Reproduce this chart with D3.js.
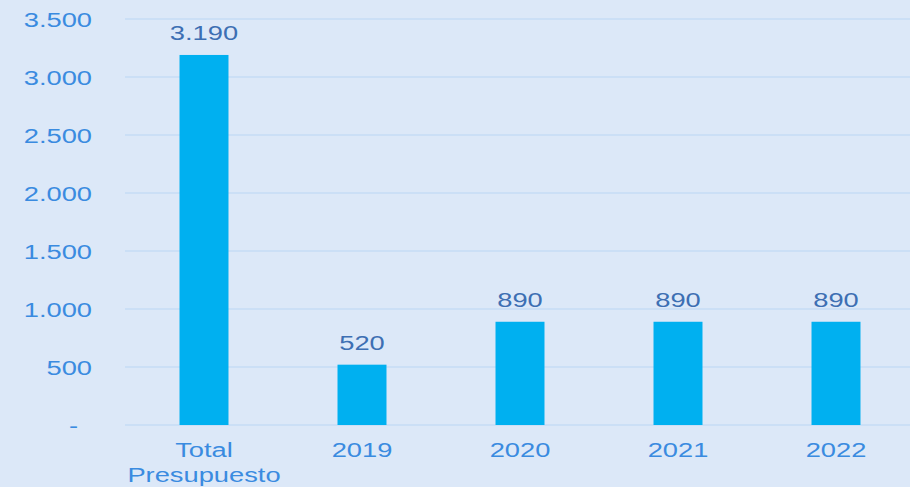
<!DOCTYPE html>
<html><head><meta charset="utf-8">
<script src="https://cdn.jsdelivr.net/npm/d3@7"></script>
<style>
html,body{margin:0;padding:0;background:#dce8f8;}
svg{display:block;}
text{font-family:"Liberation Sans",Arial,sans-serif;}
</style></head>
<body>
<svg id="c" width="910" height="487"></svg>
<script>
const categories = [["Total","Presupuesto"],["2019"],["2020"],["2021"],["2022"]];
const values = [3190, 520, 890, 890, 890];
const valueLabels = ["3.190","520","890","890","890"];
const yTicks = [0,500,1000,1500,2000,2500,3000,3500];
const yTickLabels = ["-","500","1.000","1.500","2.000","2.500","3.000","3.500"];

(function(){
const W = 910, H = 487;
const mLeft = 125, mRight = 915, mTop = 19, mBottom = 425;
const SX = 1.3;
const svg = d3.select("#c");
svg.append("rect").attr("width",W).attr("height",H).attr("fill","#dce8f8");

const x = d3.scaleBand().domain(d3.range(categories.length)).range([mLeft,mRight])
  .paddingInner(0.69).paddingOuter(0.345);
const y = d3.scaleLinear().domain([0,3500]).range([mBottom,mTop]);

// gridlines
svg.append("g").selectAll("line").data(yTicks).join("line")
  .attr("x1",mLeft).attr("x2",W).attr("y1",d=>y(d)).attr("y2",d=>y(d))
  .attr("stroke","#c6dcf6").attr("stroke-width",1.5);

// y axis labels
const ya = svg.append("g").attr("transform",`translate(${mLeft},0)`)
  .call(d3.axisLeft(y).tickValues(yTicks).tickSize(0).tickPadding(0)
    .tickFormat((d,i)=>yTickLabels[i]));
ya.select(".domain").remove();
ya.selectAll("text")
  .attr("x", d => (d===0 ? -47 : -33)/SX)
  .attr("dy","0.36em")
  .attr("transform",`scale(${SX},1)`)
  .attr("fill","#3a8be0").style("font-size","21px").style("font-family","'Liberation Sans',Arial,sans-serif");

// bars
svg.append("g").selectAll("rect").data(values).join("rect")
  .attr("x",(d,i)=>x(i)).attr("width",x.bandwidth())
  .attr("y",d=>y(d)).attr("height",d=>y(0)-y(d))
  .attr("fill","#00b0f0");

// value labels
svg.append("g").selectAll("text").data(values).join("text")
  .attr("transform",(d,i)=>`translate(${x(i)+x.bandwidth()/2},${y(d)-15}) scale(${SX},1)`)
  .attr("text-anchor","middle").attr("fill","#3d6fb3").style("font-size","21px")
  .text((d,i)=>valueLabels[i]);

// x labels
const xl = svg.append("g").selectAll("g").data(categories).join("g")
  .attr("transform",(d,i)=>`translate(${x(i)+x.bandwidth()/2},457) scale(${SX},1)`);
xl.selectAll("text").data(d=>d).join("text")
  .attr("y",(d,j)=>j*25).attr("text-anchor","middle")
  .attr("fill","#3a8be0").style("font-size","21px").text(d=>d);
})();
</script>
</body></html>
